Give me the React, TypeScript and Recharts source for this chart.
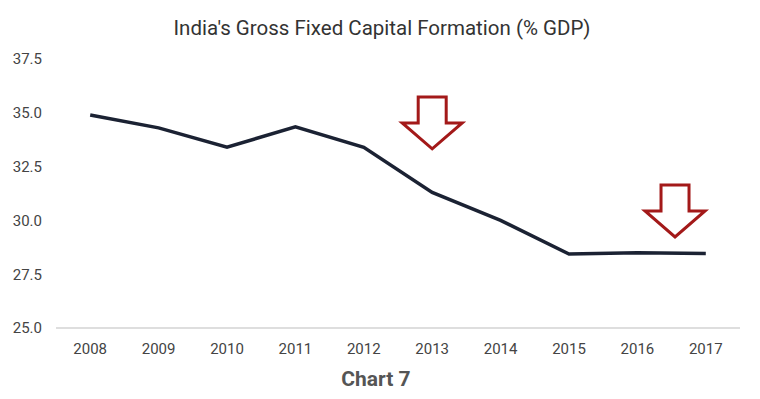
import { LineChart, Line, XAxis, YAxis, ReferenceDot } from "recharts";

const years = [2008, 2009, 2010, 2011, 2012, 2013, 2014, 2015, 2016, 2017];
const gfcf = [34.9, 34.3, 33.4, 34.35, 33.4, 31.3, 30.0, 28.44, 28.5, 28.46];
const yTicks = [25, 27.5, 30, 32.5, 35, 37.5];
// arrow annotations: x position (year), y value at arrow top
const arrowX = [2013, 2016.55];
const arrowY = [35.74, 31.65];

const data = years.map((year, i) => ({ year, value: gfcf[i] }));

const ArrowDown = (props: any) => {
  const { cx, cy } = props;
  if (cx == null || cy == null) return null;
  const shaft = 14;
  const head = 30;
  const shoulder = 26;
  const tip = 52;
  const pts = [
    [cx - shaft, cy],
    [cx + shaft, cy],
    [cx + shaft, cy + shoulder],
    [cx + head, cy + shoulder],
    [cx, cy + tip],
    [cx - head, cy + shoulder],
    [cx - shaft, cy + shoulder],
  ]
    .map((p) => p.join(","))
    .join(" ");
  return (
    <polygon
      points={pts}
      fill="#ffffff"
      stroke="#a31919"
      strokeWidth={3}
      strokeLinejoin="miter"
    />
  );
};

export default function App() {
  return (
    <div
      style={{
        position: "absolute",
        left: 0,
        top: 0,
        width: 760,
        height: 399,
        background: "#ffffff",
        fontFamily: "Roboto, sans-serif",
      }}
    >
      <div
        style={{
          position: "absolute",
          top: 16,
          left: 0,
          width: 764,
          textAlign: "center",
          fontSize: 20.5,
          color: "#333333",
        }}
      >
        India's Gross Fixed Capital Formation (% GDP)
      </div>
      <LineChart
        width={760}
        height={399}
        data={data}
        margin={{ top: 59, right: 20, bottom: 41, left: 0 }}
      >
        <XAxis
          dataKey="year"
          type="number"
          domain={[2007.5, 2017.5]}
          ticks={years}
          tickLine={false}
          tickMargin={9}
          stroke="#bdbdbd"
          tick={{ fill: "#444444", fontSize: 15 }}
          height={30}
        />
        <YAxis
          domain={[25, 37.5]}
          ticks={yTicks}
          tickFormatter={(v: number) => v.toFixed(1)}
          axisLine={false}
          tickLine={false}
          tickMargin={8}
          width={56}
          tick={{ fill: "#444444", fontSize: 15 }}
        />
        <Line
          type="linear"
          dataKey="value"
          stroke="#1b2233"
          strokeWidth={3.5}
          dot={false}
          isAnimationActive={false}
        />
        {arrowX.map((x, i) => (
          <ReferenceDot
            key={x}
            x={x}
            y={arrowY[i]}
            r={0}
            shape={ArrowDown}
            ifOverflow="visible"
          />
        ))}
      </LineChart>
      <div
        style={{
          position: "absolute",
          top: 367,
          left: 0,
          width: 752,
          textAlign: "center",
          fontSize: 21,
          fontWeight: "bold",
          color: "#555555",
        }}
      >
        Chart 7
      </div>
    </div>
  );
}
